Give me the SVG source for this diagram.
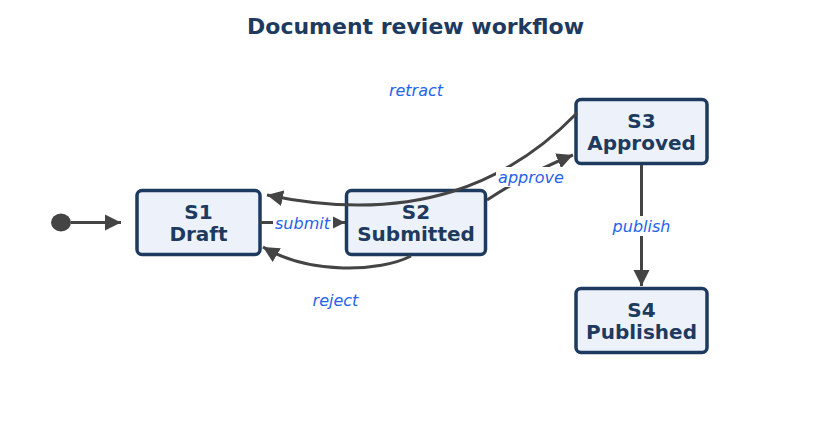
<svg xmlns="http://www.w3.org/2000/svg" width="831" height="446" viewBox="0 0 831 446">
<defs>
<marker id="ah" markerUnits="userSpaceOnUse" markerWidth="18" markerHeight="18" refX="16" refY="9" orient="auto">
<path d="M0,1 L16,9 L0,17 Z" fill="#444444"/>
</marker>
<style>
.node rect{fill:#edf2fa;stroke:#1e3a5f;stroke-width:3.5}
.node text{font-family:"DejaVu Sans",sans-serif;font-weight:bold;font-size:20px;fill:#1e3a5f;text-anchor:middle}
.edge{fill:none;stroke:#444444;stroke-width:3;marker-end:url(#ah)}
.lbl{font-family:"DejaVu Sans",sans-serif;font-style:italic;font-size:16px;fill:#2563eb;text-anchor:middle}
.bg{fill:#ffffff}
</style>
</defs>
<rect width="831" height="446" fill="#ffffff"/>
<text x="415.5" y="34" font-family="DejaVu Sans,sans-serif" font-weight="bold" font-size="22" fill="#1e3a5f" text-anchor="middle">Document review workflow</text>
<g id="S1" class="node"><rect x="137" y="190.5" width="123" height="64" rx="5"/><text x="198.5" y="219">S1</text><text x="198.5" y="241">Draft</text></g>
<g id="S2" class="node"><rect x="346.5" y="190.5" width="139" height="64" rx="5"/><text x="416" y="219">S2</text><text x="416" y="241">Submitted</text></g>
<g id="S3" class="node"><rect x="576" y="99.5" width="131" height="64" rx="5"/><text x="641.5" y="128">S3</text><text x="641.5" y="150">Approved</text></g>
<g id="S4" class="node"><rect x="576" y="288.5" width="131" height="64" rx="5"/><text x="641.5" y="317">S4</text><text x="641.5" y="339">Published</text></g>
<g id="connectors">
<ellipse cx="61" cy="222.5" rx="10" ry="9" fill="#444444"/>
<path class="edge" d="M71,222.5 L121,222.5"/>
<path class="edge" d="M260,222.5 L345,222.5"/>
<path class="edge" d="M487,200 Q530,172 573,155"/>
<path class="edge" d="M577,113 C510,182 415,226 267,195"/>
<path class="edge" d="M411,256 C380,272 310,275 263,247"/>
<path class="edge" d="M641.5,165 L641.5,286"/>
<rect class="bg" x="273" y="213" width="60" height="20"/>
<text class="lbl" x="302.5" y="228.5">submit</text>
<rect class="bg" x="496" y="167" width="69" height="20"/>
<text class="lbl" x="531" y="182.5">approve</text>
<text class="lbl" x="416" y="95.5">retract</text>
<rect class="bg" x="609" y="216" width="65" height="20"/>
<text class="lbl" x="641.5" y="231.5">publish</text>
<text class="lbl" x="335.5" y="305.5">reject</text>
</g>
</svg>
